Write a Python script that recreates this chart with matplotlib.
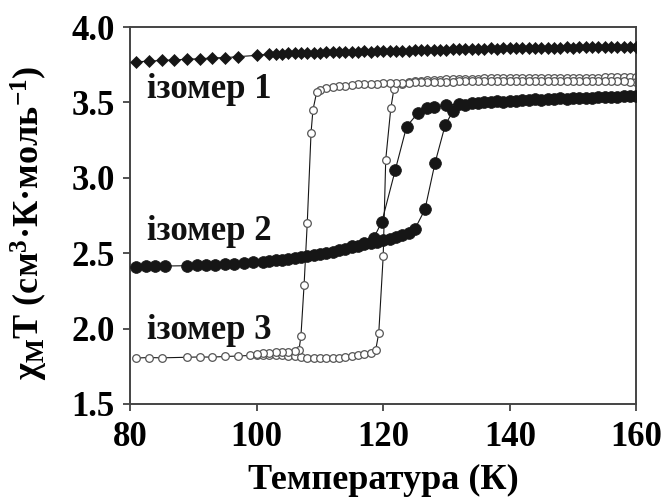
import matplotlib
matplotlib.use("Agg")
import matplotlib.pyplot as plt

# ---- data -----------------------------------------------------------------
# isomer 1 (filled diamonds)
T1 = [81, 83, 85, 87, 89, 91, 93, 95, 97, 100,
      102, 103, 104, 105, 106, 107, 108, 109, 110, 111, 112, 113, 114, 115,
      116, 117, 118, 119, 120, 121, 122, 123, 124, 125, 126, 127, 128, 129,
      130, 131, 132, 133, 134, 135, 136, 137, 138, 139, 140, 141, 142, 143,
      144, 145, 146, 147, 148, 149, 150, 151, 152, 153, 154, 155, 156, 157,
      158, 159, 160]
chiT1 = [3.770, 3.773, 3.779, 3.781, 3.787, 3.789, 3.795, 3.797, 3.803, 3.812,
         3.820, 3.823, 3.822, 3.826, 3.825, 3.828, 3.827, 3.830, 3.829, 3.832,
         3.831, 3.834, 3.833, 3.836, 3.835, 3.838, 3.837, 3.840, 3.839, 3.842,
         3.841, 3.844, 3.843, 3.846, 3.845, 3.848, 3.847, 3.850, 3.849, 3.852,
         3.851, 3.854, 3.853, 3.856, 3.855, 3.858, 3.857, 3.860, 3.859, 3.861,
         3.860, 3.862, 3.861, 3.863, 3.862, 3.864, 3.863, 3.865, 3.864, 3.866,
         3.865, 3.867, 3.866, 3.868, 3.867, 3.869, 3.868, 3.870, 3.870]

# isomer 2 (filled circles): warming and cooling branches
T2_up = [81, 82.5, 84, 85.5, 89, 90.5, 92, 93.5, 95, 96.5, 98, 99.5,
         101, 102, 103, 104, 105, 106, 107, 108, 109, 110, 111, 112, 113,
         114, 115, 116, 117, 118, 119, 120, 121, 122, 123, 124, 125,
         126.6, 128.2, 129.8, 131, 133, 135, 137, 139, 141, 143, 145, 147,
         149, 151, 153, 155, 157, 159]
chiT2_up = [2.410, 2.412, 2.413, 2.415, 2.417, 2.419, 2.422, 2.425, 2.428,
            2.431, 2.435, 2.439, 2.444, 2.448, 2.453, 2.458, 2.463, 2.468,
            2.473, 2.479, 2.486, 2.494, 2.502, 2.511, 2.520, 2.530, 2.540,
            2.550, 2.558, 2.567, 2.576, 2.585, 2.595, 2.606, 2.618, 2.632,
            2.660, 2.790, 3.100, 3.350, 3.440, 3.480, 3.495, 3.500, 3.505,
            3.510, 3.514, 3.518, 3.521, 3.524, 3.527, 3.530, 3.533, 3.536,
            3.540]
T2_down = [160, 158, 156, 154, 152, 150, 148, 146, 144, 142, 140, 138, 136,
           134, 132, 130, 128, 127, 125.5, 123.7, 121.9, 119.8, 118.5, 117,
           115]
chiT2_down = [3.545, 3.541, 3.538, 3.535, 3.532, 3.529, 3.527, 3.524, 3.520,
              3.516, 3.512, 3.508, 3.503, 3.498, 3.490, 3.480, 3.470, 3.460,
              3.430, 3.340, 3.050, 2.710, 2.600, 2.565, 2.545]

# isomer 3 (open circles): warming and cooling branches
T3_up = [81, 83, 85, 89, 91, 93, 95, 97, 99, 100, 101, 102, 103, 104, 105,
         106, 107, 108, 109, 110, 111, 112, 113, 114, 115, 116, 117, 118,
         118.8, 119.3, 120.0, 120.4, 121.2, 121.7, 123, 124, 125, 126, 127,
         128, 129, 130, 131, 132, 133, 134, 135, 136, 137, 138, 139, 140,
         141, 142, 143, 144, 145, 146, 147, 148, 149, 150, 151, 152, 153,
         154, 155, 156, 157, 158, 159, 160]
chiT3_up = [1.805, 1.808, 1.806, 1.810, 1.812, 1.811, 1.815, 1.818, 1.822,
            1.826, 1.828, 1.826, 1.824, 1.822, 1.818, 1.815, 1.812, 1.808,
            1.805, 1.803, 1.802, 1.804, 1.806, 1.810, 1.815, 1.822, 1.830,
            1.840, 1.855, 1.970, 2.480, 3.120, 3.460, 3.590, 3.625, 3.635,
            3.640, 3.644, 3.646, 3.648, 3.650, 3.652, 3.653, 3.655, 3.656,
            3.657, 3.658, 3.659, 3.660, 3.661, 3.661, 3.662, 3.662, 3.663,
            3.663, 3.663, 3.664, 3.664, 3.664, 3.664, 3.665, 3.665, 3.665,
            3.665, 3.665, 3.665, 3.666, 3.666, 3.666, 3.666, 3.666, 3.666]
T3_down = [160, 159, 158, 157, 156, 155, 154, 153, 152, 151, 150, 149, 148,
           147, 146, 145, 144, 143, 142, 141, 140, 139, 138, 137, 136, 135,
           134, 133, 132, 131, 130, 129, 128, 127, 126, 125, 124, 123, 122,
           121, 120, 119, 118, 117, 116, 115, 114, 113, 112, 111, 110, 109.5,
           108.9, 108.6, 108.0, 107.5, 107.0, 106.7, 106, 105, 104, 103, 102,
           101, 100]
chiT3_down = [3.638, 3.638, 3.639, 3.639, 3.640, 3.640, 3.641, 3.641, 3.641,
              3.642, 3.642, 3.642, 3.642, 3.643, 3.643, 3.643, 3.643, 3.643,
              3.643, 3.643, 3.642, 3.642, 3.642, 3.641, 3.641, 3.640, 3.640,
              3.639, 3.639, 3.638, 3.637, 3.636, 3.635, 3.634, 3.633, 3.632,
              3.631, 3.630, 3.629, 3.628, 3.627, 3.625, 3.623, 3.621, 3.619,
              3.616, 3.612, 3.608, 3.603, 3.597, 3.585, 3.570, 3.450, 3.300,
              2.700, 2.290, 1.950, 1.860, 1.852, 1.848, 1.845, 1.842, 1.838,
              1.835, 1.832]

labels = ["ізомер 1", "ізомер 2", "ізомер 3"]
label_pos = [(82.7, 3.53), (82.7, 2.59), (82.7, 1.93)]

xticks = [80, 100, 120, 140, 160]
yticks = [1.5, 2.0, 2.5, 3.0, 3.5, 4.0]

# ---- style ----------------------------------------------------------------
plt.rcParams["font.family"] = ["Liberation Serif", "DejaVu Serif"]
plt.rcParams["font.weight"] = "bold"
plt.rcParams["mathtext.fontset"] = "custom"
plt.rcParams["mathtext.rm"] = "Liberation Serif:bold"
plt.rcParams["mathtext.it"] = "Liberation Serif:bold:italic"
plt.rcParams["mathtext.bf"] = "Liberation Serif:bold"

fig = plt.figure(figsize=(6.67, 5), dpi=100)
ax = fig.add_axes([0.195, 0.192, 0.759, 0.754])

dark = "#161616"
line_kw = dict(color=dark, lw=0.8)

# isomer 1
ax.plot(T1, chiT1, marker="D", ms=6.5, mfc=dark, mec=dark, mew=0.5, **line_kw,
        zorder=3)

# isomer 3 (open circles) drawn beneath the filled circles
for T, v in ((T3_up, chiT3_up), (T3_down, chiT3_down)):
    ax.plot(T, v, marker="o", ms=5.5, mfc="white", mec="#555555", mew=0.9,
            **line_kw, zorder=2)

# isomer 2 (filled circles)
for T, v in ((T2_up, chiT2_up), (T2_down, chiT2_down)):
    ax.plot(T, v, marker="o", ms=8.5, mfc=dark, mec=dark, mew=0.5, **line_kw,
            zorder=4)

for txt, (x, y) in zip(labels, label_pos):
    ax.text(x, y, txt, fontsize=25, fontweight="bold", va="baseline",
            ha="left", color="#111111", zorder=5)

ax.set_xlim(80, 160)
ax.set_ylim(1.5, 4.0)
ax.set_xticks(xticks)
ax.set_yticks(yticks)
ax.set_xticklabels([str(t) for t in xticks])
ax.set_yticklabels([f"{t:.1f}" for t in yticks])
ax.tick_params(axis="both", direction="out", length=5, width=1.2,
               labelsize=25, colors="#333333", labelcolor="black")
ax.tick_params(axis="x", pad=7)
ax.tick_params(axis="y", pad=6)
for s in ax.spines.values():
    s.set_linewidth(1.4)
    s.set_color("#444444")

ax.set_xlabel("Температура (К)", fontsize=26, fontweight="bold")
ax.xaxis.set_label_coords(0.5, -0.16)
ax.set_ylabel("χ$_{\\mathrm{M}}$T (см$^{3}$·К·моль$^{-1}$)", fontsize=26,
              fontweight="bold")
ax.yaxis.set_label_coords(-0.158, 0.48)

fig.savefig("out.png", dpi=100)
